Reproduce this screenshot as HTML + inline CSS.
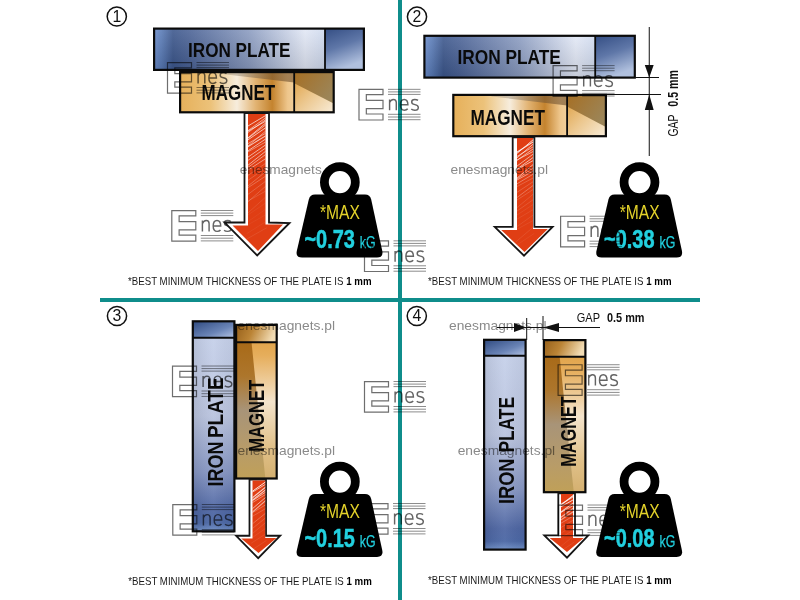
<!DOCTYPE html><html><head><meta charset="utf-8"><style>html,body{margin:0;padding:0;background:#fff;overflow:hidden}svg{display:block}</style></head><body>
<svg width="800" height="600" viewBox="0 0 800 600" font-family='"Liberation Sans", sans-serif'>
<defs>
<linearGradient id="gPH" x1="0" y1="0" x2="1" y2="0">
<stop offset="0" stop-color="#6a8ccc"/><stop offset="0.035" stop-color="#587ab6"/><stop offset="0.09" stop-color="#3b568c"/><stop offset="0.17" stop-color="#4a6296"/>
<stop offset="0.45" stop-color="#8a9bc0"/><stop offset="0.72" stop-color="#e2e8f6"/><stop offset="0.8" stop-color="#d2dcf0"/><stop offset="1" stop-color="#b8c6e2"/></linearGradient>
<linearGradient id="gPHv" x1="0" y1="0" x2="0" y2="1"><stop offset="0" stop-color="#fff" stop-opacity="0.12"/><stop offset="1" stop-color="#000" stop-opacity="0.12"/></linearGradient>
<linearGradient id="gPHc" x1="0" y1="0" x2="0.35" y2="1"><stop offset="0" stop-color="#344e84"/><stop offset="0.5" stop-color="#5f77a8"/><stop offset="1" stop-color="#b0c0de"/></linearGradient>
<linearGradient id="gMH" x1="0" y1="0" x2="1" y2="0">
<stop offset="0" stop-color="#e6b05a"/><stop offset="0.2" stop-color="#ecc27a"/><stop offset="0.37" stop-color="#f7eddd"/>
<stop offset="0.49" stop-color="#e2b474"/><stop offset="0.6" stop-color="#c4832e"/><stop offset="0.7" stop-color="#eec68c"/><stop offset="0.75" stop-color="#f2d09c"/></linearGradient>
<linearGradient id="gMHs" x1="0" y1="0" x2="1" y2="0"><stop offset="0" stop-color="#8a7a60" stop-opacity="0.3"/><stop offset="0.5" stop-color="#6a5a48" stop-opacity="0.45"/><stop offset="1" stop-color="#503010" stop-opacity="0.5"/></linearGradient>
<linearGradient id="gMHc1" x1="0" y1="0" x2="1" y2="0.6"><stop offset="0" stop-color="#a66f24"/><stop offset="1" stop-color="#9c8558"/></linearGradient>
<linearGradient id="gMHc2" x1="0" y1="0" x2="1" y2="1"><stop offset="0" stop-color="#dd9c3c"/><stop offset="0.5" stop-color="#ecc78e"/><stop offset="1" stop-color="#f8ecd8"/></linearGradient>
<linearGradient id="gPV" x1="0" y1="0" x2="0" y2="1">
<stop offset="0" stop-color="#c8d3ec"/><stop offset="0.45" stop-color="#b9c3de"/><stop offset="0.72" stop-color="#8595c2"/><stop offset="0.9" stop-color="#4d65a2"/><stop offset="0.96" stop-color="#4a66a4"/><stop offset="1" stop-color="#6e8ec6"/></linearGradient>
<linearGradient id="gPVh" x1="0" y1="0" x2="1" y2="0"><stop offset="0" stop-color="#000" stop-opacity="0.08"/><stop offset="0.5" stop-color="#fff" stop-opacity="0.06"/><stop offset="1" stop-color="#000" stop-opacity="0.04"/></linearGradient>
<linearGradient id="gPVc" x1="0" y1="0" x2="1" y2="1"><stop offset="0" stop-color="#2f4a80"/><stop offset="0.6" stop-color="#6a84b6"/><stop offset="1" stop-color="#b4c4e4"/></linearGradient>
<linearGradient id="gMVL" x1="0" y1="0" x2="0" y2="1">
<stop offset="0" stop-color="#a86a18"/><stop offset="0.25" stop-color="#ad762c"/><stop offset="0.5" stop-color="#a89478"/><stop offset="0.8" stop-color="#b89c68"/><stop offset="1" stop-color="#c0a058"/></linearGradient>
<linearGradient id="gMVR" x1="0" y1="0" x2="0" y2="1">
<stop offset="0" stop-color="#dc9a38"/><stop offset="0.2" stop-color="#e6ae5c"/><stop offset="0.5" stop-color="#f4e4cc"/><stop offset="0.8" stop-color="#e0c088"/><stop offset="1" stop-color="#d4b070"/></linearGradient>
<linearGradient id="gMVc" x1="0" y1="0" x2="1" y2="0.2"><stop offset="0" stop-color="#96601a"/><stop offset="0.45" stop-color="#bb8436"/><stop offset="1" stop-color="#f2dcb4"/></linearGradient>

<g id="logo" fill="none" stroke="#6e6e6e" stroke-width="1.2">
<path d="M4,4.33 H28 V9.67 H11.33 V15.33 H28 V23.67 H11.33 V29 H28 V35 H4 Z"/>
<path d="M33,4.33 H65.5 M33,6.9 H65.5 M33,9.4 H65.5 M33,29.3 H65.5 M33,32 H65.5 M33,34.7 H65.5" stroke="#8c8c8c" stroke-width="1"/>
<path d="M34.6,25.2 V14.4 M34.6,17.6 Q35.8,14.4 38.4,14.4 Q41.3,14.4 41.3,17.6 V25.2 M45.4,19.8 H52.9 Q52.9,14.4 49.2,14.4 Q45.4,14.4 45.4,19.8 Q45.4,25.2 49.4,25.2 Q51.6,25.2 52.7,23.8 M63,15.4 Q61.9,14.4 59.7,14.4 Q56.7,14.4 56.7,17 Q56.7,19 59.9,19.6 Q63.3,20.2 63.3,22.4 Q63.3,25.2 59.8,25.2 Q57.4,25.2 56.3,24" stroke="#646464" stroke-width="1.45"/>
</g>
</defs>
<rect width="800" height="600" fill="#fff"/>
<rect x="398" y="0" width="4" height="600" fill="#0f8d8b"/>
<rect x="100" y="298" width="600" height="4" fill="#0f8d8b"/>
<circle cx="116.8" cy="16.5" r="9.6" fill="none" stroke="#111" stroke-width="1.5"/>
<text x="116.8" y="21.8" font-size="15.8" fill="#111" text-anchor="middle">1</text>
<circle cx="417" cy="16.7" r="9.6" fill="none" stroke="#111" stroke-width="1.5"/>
<text x="417" y="22.0" font-size="15.8" fill="#111" text-anchor="middle">2</text>
<circle cx="117" cy="316" r="9.6" fill="none" stroke="#111" stroke-width="1.5"/>
<text x="117" y="321.3" font-size="15.8" fill="#111" text-anchor="middle">3</text>
<circle cx="416.8" cy="316" r="9.6" fill="none" stroke="#111" stroke-width="1.5"/>
<text x="416.8" y="321.3" font-size="15.8" fill="#111" text-anchor="middle">4</text>
<rect x="154.1" y="28.6" width="209.8" height="41.3" fill="url(#gPH)"/>
<rect x="154.1" y="28.6" width="209.8" height="41.3" fill="url(#gPHv)"/>
<rect x="325" y="28.6" width="38.89999999999998" height="41.3" fill="url(#gPHc)"/>
<rect x="154.1" y="28.6" width="209.8" height="41.3" fill="none" stroke="#0a0a0a" stroke-width="2.2"/>
<line x1="325" y1="28.6" x2="325" y2="69.9" stroke="#0a0a0a" stroke-width="1.8"/>
<text x="188" y="56.5" font-size="20.8" font-weight="bold" fill="#0a0a0a" textLength="102.5" lengthAdjust="spacingAndGlyphs">IRON PLATE</text>
<rect x="180.1" y="72.1" width="153.60000000000002" height="40.2" fill="url(#gMH)"/>
<polygon points="218.1,72.1 294.2,72.1 294.2,82.6 218.1,73.6" fill="url(#gMHs)"/>
<rect x="294.2" y="72.1" width="39.50000000000006" height="40.2" fill="url(#gMHc2)"/>
<polygon points="294.2,72.1 333.70000000000005,72.1 333.70000000000005,103.45599999999999 294.2,83.356" fill="url(#gMHc1)"/>
<rect x="180.1" y="72.1" width="153.60000000000002" height="40.2" fill="none" stroke="#0a0a0a" stroke-width="2.2"/>
<line x1="294.2" y1="72.1" x2="294.2" y2="112.3" stroke="#0a0a0a" stroke-width="1.8"/>
<text x="201.6" y="100" font-size="21.2" font-weight="bold" fill="#0a0a0a" textLength="73.5" lengthAdjust="spacingAndGlyphs">MAGNET</text>
<g style="mix-blend-mode:multiply">
<use href="#logo" x="167.8" y="206.2"/>
</g>
<polygon points="244.5,113 244.5,222.5 224.5,222.5 257.2,255.5 289.5,223 269,222.5 269,113" fill="#fff" stroke="#151515" stroke-width="1.8" stroke-linejoin="miter"/>
<polygon points="248,114 265.5,114 265.5,224.5 283,224.5 258,251 232.5,225.5 248,225.5" fill="#e03e14"/>
<clipPath id="h1"><polygon points="248,114 265.5,114 265.5,224.5 283,224.5 258,251 232.5,225.5 248,225.5"/></clipPath>
<g clip-path="url(#h1)" stroke="#fff" stroke-linecap="round">
<line x1="247.0" y1="126.6" x2="266.5" y2="115.0" stroke-opacity="0.89" stroke-width="0.76"/>
<line x1="247.0" y1="131.4" x2="266.5" y2="117.2" stroke-opacity="0.87" stroke-width="0.64"/>
<line x1="247.0" y1="133.2" x2="266.5" y2="119.1" stroke-opacity="0.85" stroke-width="0.63"/>
<line x1="247.0" y1="131.7" x2="266.5" y2="120.7" stroke-opacity="0.84" stroke-width="0.82"/>
<line x1="247.0" y1="138.7" x2="266.5" y2="122.4" stroke-opacity="0.82" stroke-width="0.81"/>
<line x1="247.0" y1="139.1" x2="266.5" y2="124.3" stroke-opacity="0.81" stroke-width="0.71"/>
<line x1="247.0" y1="140.5" x2="266.5" y2="127.2" stroke-opacity="0.78" stroke-width="0.89"/>
<line x1="247.0" y1="146.9" x2="266.5" y2="130.4" stroke-opacity="0.75" stroke-width="0.62"/>
<line x1="247.0" y1="144.2" x2="266.5" y2="132.8" stroke-opacity="0.73" stroke-width="0.67"/>
<line x1="247.0" y1="147.2" x2="266.5" y2="135.4" stroke-opacity="0.71" stroke-width="1.01"/>
<line x1="247.0" y1="151.5" x2="266.5" y2="138.4" stroke-opacity="0.68" stroke-width="0.92"/>
<line x1="247.0" y1="152.4" x2="266.5" y2="141.5" stroke-opacity="0.65" stroke-width="0.63"/>
<line x1="247.0" y1="157.8" x2="266.5" y2="144.3" stroke-opacity="0.63" stroke-width="0.94"/>
<line x1="247.0" y1="161.1" x2="266.5" y2="147.4" stroke-opacity="0.60" stroke-width="0.89"/>
<line x1="247.0" y1="166.0" x2="266.5" y2="150.6" stroke-opacity="0.57" stroke-width="1.00"/>
<line x1="247.0" y1="168.1" x2="266.5" y2="153.9" stroke-opacity="0.54" stroke-width="0.89"/>
<line x1="247.0" y1="170.7" x2="266.5" y2="158.1" stroke-opacity="0.50" stroke-width="0.96"/>
<line x1="247.0" y1="176.1" x2="266.5" y2="162.7" stroke-opacity="0.46" stroke-width="0.45"/>
<line x1="247.0" y1="181.1" x2="266.5" y2="167.2" stroke-opacity="0.42" stroke-width="0.46"/>
<line x1="247.0" y1="186.8" x2="266.5" y2="171.0" stroke-opacity="0.38" stroke-width="0.67"/>
<line x1="247.0" y1="188.3" x2="266.5" y2="175.6" stroke-opacity="0.34" stroke-width="0.75"/>
<line x1="247.0" y1="195.1" x2="266.5" y2="180.6" stroke-opacity="0.30" stroke-width="0.64"/>
<line x1="247.0" y1="202.6" x2="266.5" y2="185.5" stroke-opacity="0.25" stroke-width="0.74"/>
<line x1="247.0" y1="201.6" x2="266.5" y2="190.6" stroke-opacity="0.21" stroke-width="0.67"/>
<line x1="247.0" y1="213.8" x2="266.5" y2="196.3" stroke-opacity="0.16" stroke-width="0.66"/>
<line x1="247.0" y1="215.6" x2="266.5" y2="202.4" stroke-opacity="0.12" stroke-width="0.51"/>
<line x1="247.0" y1="222.3" x2="266.5" y2="208.6" stroke-opacity="0.12" stroke-width="0.41"/>
<line x1="247.0" y1="225.3" x2="266.5" y2="214.4" stroke-opacity="0.12" stroke-width="0.45"/>
<line x1="247.0" y1="233.5" x2="266.5" y2="221.2" stroke-opacity="0.12" stroke-width="0.45"/>
<line x1="247.0" y1="238.9" x2="266.5" y2="227.9" stroke-opacity="0.12" stroke-width="0.75"/>
</g>
<g transform="translate(0,0)">
<circle cx="339.85" cy="182.15" r="15.45" fill="none" stroke="#000" stroke-width="8.8"/>
<path d="M315,194.5 H365 Q370,194.5 371.2,199.5 L382.3,251 Q383.5,257.5 377,257.5 H302 Q295.5,257.5 296.8,251 L308.8,199.5 Q310,194.5 315,194.5 Z" fill="#000"/>
<text x="320" y="218.5" font-size="19.4" fill="#e3d22a" textLength="40" lengthAdjust="spacingAndGlyphs">*MAX</text>
<text x="304.4" y="247.75" font-size="25" font-weight="bold" fill="#22d0df" stroke="#22d0df" stroke-width="0.5" textLength="50.5" lengthAdjust="spacingAndGlyphs">~0.73</text>
<text x="359.8" y="247.75" font-size="16.5" fill="#22d0df" stroke="#22d0df" stroke-width="0.25" textLength="15.8" lengthAdjust="spacingAndGlyphs">kG</text>
</g>
<text x="128" y="285" font-size="11.6" fill="#1a1a1a" textLength="243.5" lengthAdjust="spacingAndGlyphs">*BEST MINIMUM THICKNESS OF THE PLATE IS <tspan font-weight="bold" fill="#000">1 mm</tspan></text>
<rect x="424.40000000000003" y="35.800000000000004" width="210.39999999999998" height="41.8" fill="url(#gPH)"/>
<rect x="424.40000000000003" y="35.800000000000004" width="210.39999999999998" height="41.8" fill="url(#gPHv)"/>
<rect x="595.2" y="35.800000000000004" width="39.59999999999991" height="41.8" fill="url(#gPHc)"/>
<rect x="424.40000000000003" y="35.800000000000004" width="210.39999999999998" height="41.8" fill="none" stroke="#0a0a0a" stroke-width="2.2"/>
<line x1="595.2" y1="35.800000000000004" x2="595.2" y2="77.6" stroke="#0a0a0a" stroke-width="1.8"/>
<text x="457.4" y="63.9" font-size="20.8" font-weight="bold" fill="#0a0a0a" textLength="103.5" lengthAdjust="spacingAndGlyphs">IRON PLATE</text>
<rect x="453.3" y="94.89999999999999" width="152.60000000000002" height="41.30000000000001" fill="url(#gMH)"/>
<polygon points="491.3,94.89999999999999 567.1,94.89999999999999 567.1,105.39999999999999 491.3,96.39999999999999" fill="url(#gMHs)"/>
<rect x="567.1" y="94.89999999999999" width="38.80000000000007" height="41.30000000000001" fill="url(#gMHc2)"/>
<polygon points="567.1,94.89999999999999 605.9000000000001,94.89999999999999 605.9000000000001,127.114 567.1,106.464" fill="url(#gMHc1)"/>
<rect x="453.3" y="94.89999999999999" width="152.60000000000002" height="41.30000000000001" fill="none" stroke="#0a0a0a" stroke-width="2.2"/>
<line x1="567.1" y1="94.89999999999999" x2="567.1" y2="136.2" stroke="#0a0a0a" stroke-width="1.8"/>
<text x="470.4" y="124.9" font-size="21.4" font-weight="bold" fill="#0a0a0a" textLength="74.5" lengthAdjust="spacingAndGlyphs">MAGNET</text>
<polygon points="512.7,137.3 512.7,226.9 494.75,226.9 524,255.7 552.6,226.9 534.4,226.9 534.4,137.3" fill="#fff" stroke="#151515" stroke-width="1.8" stroke-linejoin="miter"/>
<polygon points="517,138 533,138 533,229 547.8,229 524.5,252 501.25,230 517,230" fill="#e03e14"/>
<clipPath id="h2"><polygon points="517,138 533,138 533,229 547.8,229 524.5,252 501.25,230 517,230"/></clipPath>
<g clip-path="url(#h2)" stroke="#fff" stroke-linecap="round">
<line x1="516.0" y1="154.3" x2="534.0" y2="139.0" stroke-opacity="0.89" stroke-width="0.87"/>
<line x1="516.0" y1="152.8" x2="534.0" y2="141.4" stroke-opacity="0.86" stroke-width="1.03"/>
<line x1="516.0" y1="158.7" x2="534.0" y2="143.4" stroke-opacity="0.84" stroke-width="0.78"/>
<line x1="516.0" y1="157.0" x2="534.0" y2="146.3" stroke-opacity="0.81" stroke-width="0.68"/>
<line x1="516.0" y1="161.1" x2="534.0" y2="148.3" stroke-opacity="0.79" stroke-width="0.72"/>
<line x1="516.0" y1="160.6" x2="534.0" y2="151.0" stroke-opacity="0.76" stroke-width="0.73"/>
<line x1="516.0" y1="166.8" x2="534.0" y2="153.5" stroke-opacity="0.73" stroke-width="0.78"/>
<line x1="516.0" y1="169.8" x2="534.0" y2="156.9" stroke-opacity="0.69" stroke-width="0.95"/>
<line x1="516.0" y1="170.0" x2="534.0" y2="160.1" stroke-opacity="0.66" stroke-width="0.94"/>
<line x1="516.0" y1="179.0" x2="534.0" y2="163.8" stroke-opacity="0.62" stroke-width="0.99"/>
<line x1="516.0" y1="179.7" x2="534.0" y2="167.5" stroke-opacity="0.58" stroke-width="0.80"/>
<line x1="516.0" y1="180.6" x2="534.0" y2="170.6" stroke-opacity="0.54" stroke-width="0.92"/>
<line x1="516.0" y1="184.4" x2="534.0" y2="173.7" stroke-opacity="0.51" stroke-width="0.70"/>
<line x1="516.0" y1="187.1" x2="534.0" y2="177.5" stroke-opacity="0.47" stroke-width="0.42"/>
<line x1="516.0" y1="193.0" x2="534.0" y2="181.1" stroke-opacity="0.43" stroke-width="0.44"/>
<line x1="516.0" y1="198.3" x2="534.0" y2="184.8" stroke-opacity="0.39" stroke-width="0.75"/>
<line x1="516.0" y1="200.7" x2="534.0" y2="188.9" stroke-opacity="0.34" stroke-width="0.50"/>
<line x1="516.0" y1="208.5" x2="534.0" y2="193.5" stroke-opacity="0.29" stroke-width="0.45"/>
<line x1="516.0" y1="211.8" x2="534.0" y2="199.1" stroke-opacity="0.23" stroke-width="0.59"/>
<line x1="516.0" y1="215.7" x2="534.0" y2="203.9" stroke-opacity="0.18" stroke-width="0.44"/>
<line x1="516.0" y1="219.8" x2="534.0" y2="209.1" stroke-opacity="0.12" stroke-width="0.73"/>
<line x1="516.0" y1="227.3" x2="534.0" y2="214.4" stroke-opacity="0.12" stroke-width="0.78"/>
<line x1="516.0" y1="229.8" x2="534.0" y2="220.0" stroke-opacity="0.12" stroke-width="0.62"/>
<line x1="516.0" y1="241.7" x2="534.0" y2="226.5" stroke-opacity="0.12" stroke-width="0.79"/>
<line x1="516.0" y1="245.6" x2="534.0" y2="233.6" stroke-opacity="0.12" stroke-width="0.50"/>
</g>
<g transform="translate(299.65,0)">
<circle cx="339.85" cy="182.15" r="15.45" fill="none" stroke="#000" stroke-width="8.8"/>
<path d="M315,194.5 H365 Q370,194.5 371.2,199.5 L382.3,251 Q383.5,257.5 377,257.5 H302 Q295.5,257.5 296.8,251 L308.8,199.5 Q310,194.5 315,194.5 Z" fill="#000"/>
<text x="320" y="218.5" font-size="19.4" fill="#e3d22a" textLength="40" lengthAdjust="spacingAndGlyphs">*MAX</text>
<text x="304.4" y="247.75" font-size="25" font-weight="bold" fill="#22d0df" stroke="#22d0df" stroke-width="0.5" textLength="50.5" lengthAdjust="spacingAndGlyphs">~0.38</text>
<text x="359.8" y="247.75" font-size="16.5" fill="#22d0df" stroke="#22d0df" stroke-width="0.25" textLength="15.8" lengthAdjust="spacingAndGlyphs">kG</text>
</g>
<text x="428" y="284.5" font-size="11.6" fill="#1a1a1a" textLength="243.5" lengthAdjust="spacingAndGlyphs">*BEST MINIMUM THICKNESS OF THE PLATE IS <tspan font-weight="bold" fill="#000">1 mm</tspan></text>
<g stroke="#111" stroke-width="1">
<line x1="649.25" y1="27" x2="649.25" y2="156"/>
<line x1="635" y1="77.5" x2="659" y2="77.5"/>
<line x1="607" y1="94.5" x2="661" y2="94.5"/>
</g>
<polygon points="644.8,65 653.7,65 649.25,77.5" fill="#111"/>
<polygon points="644.8,110 653.7,110 649.25,94.5" fill="#111"/>
<text transform="translate(677.8,136.5) rotate(-90)" font-size="14" fill="#111"><tspan textLength="22" lengthAdjust="spacingAndGlyphs">GAP</tspan><tspan x="29.8" font-weight="bold" textLength="36.7" lengthAdjust="spacingAndGlyphs">0.5 mm</tspan></text>
<rect x="192.79999999999998" y="321.3" width="41.60000000000001" height="210.0" fill="url(#gPV)"/>
<rect x="192.79999999999998" y="321.3" width="41.60000000000001" height="210.0" fill="url(#gPVh)"/>
<rect x="192.79999999999998" y="321.3" width="41.60000000000001" height="16.44999999999999" fill="url(#gPVc)"/>
<rect x="192.79999999999998" y="321.3" width="41.60000000000001" height="210.0" fill="none" stroke="#0a0a0a" stroke-width="2.2"/>
<line x1="192.79999999999998" y1="337.75" x2="234.39999999999998" y2="337.75" stroke="#0a0a0a" stroke-width="2"/>
<g transform="translate(222.9,486.5) rotate(-90)" font-size="21.5" font-weight="bold" fill="#0a0a0a">
<text x="0" y="0" textLength="45" lengthAdjust="spacingAndGlyphs">IRON</text>
<text x="48.5" y="0" textLength="60.5" lengthAdjust="spacingAndGlyphs">PLATE</text>
</g>
<rect x="236.1" y="324.90000000000003" width="40.60000000000001" height="153.60000000000002" fill="url(#gMVR)"/>
<polygon points="236.1,342.25 251.528,342.25 265.332,478.50000000000006 236.1,478.50000000000006" fill="url(#gMVL)"/>
<rect x="236.1" y="324.90000000000003" width="40.60000000000001" height="17.349999999999966" fill="url(#gMVc)"/>
<rect x="236.1" y="324.90000000000003" width="40.60000000000001" height="153.60000000000002" fill="none" stroke="#0a0a0a" stroke-width="2.2"/>
<line x1="236.1" y1="342.25" x2="276.7" y2="342.25" stroke="#0a0a0a" stroke-width="2"/>
<text transform="translate(263.9,451.75) rotate(-90)" xml:space="preserve" font-size="21.5" font-weight="bold" fill="#0a0a0a" textLength="72" lengthAdjust="spacingAndGlyphs">MAGNET</text>
<polygon points="249.5,479.6 249.5,535.75 236,535.75 258.2,558.25 280.25,535.75 266,535.75 266,479.6" fill="#fff" stroke="#151515" stroke-width="1.8" stroke-linejoin="miter"/>
<polygon points="252.5,480.5 265.25,480.5 265.25,538 276.5,538 258.5,553 241.25,538.5 252.5,538.5" fill="#e03e14"/>
<clipPath id="h3"><polygon points="252.5,480.5 265.25,480.5 265.25,538 276.5,538 258.5,553 241.25,538.5 252.5,538.5"/></clipPath>
<g clip-path="url(#h3)" stroke="#fff" stroke-linecap="round">
<line x1="251.5" y1="491.9" x2="266.2" y2="481.5" stroke-opacity="0.88" stroke-width="0.99"/>
<line x1="251.5" y1="492.7" x2="266.2" y2="483.9" stroke-opacity="0.84" stroke-width="0.76"/>
<line x1="251.5" y1="498.5" x2="266.2" y2="486.6" stroke-opacity="0.79" stroke-width="1.09"/>
<line x1="251.5" y1="500.8" x2="266.2" y2="489.4" stroke-opacity="0.74" stroke-width="1.01"/>
<line x1="251.5" y1="501.3" x2="266.2" y2="491.8" stroke-opacity="0.70" stroke-width="0.86"/>
<line x1="251.5" y1="503.2" x2="266.2" y2="494.1" stroke-opacity="0.66" stroke-width="0.61"/>
<line x1="251.5" y1="509.5" x2="266.2" y2="496.9" stroke-opacity="0.61" stroke-width="0.95"/>
<line x1="251.5" y1="512.9" x2="266.2" y2="500.2" stroke-opacity="0.56" stroke-width="1.07"/>
<line x1="251.5" y1="513.3" x2="266.2" y2="504.5" stroke-opacity="0.48" stroke-width="0.55"/>
<line x1="251.5" y1="516.9" x2="266.2" y2="508.2" stroke-opacity="0.42" stroke-width="0.48"/>
<line x1="251.5" y1="524.6" x2="266.2" y2="512.7" stroke-opacity="0.34" stroke-width="0.76"/>
<line x1="251.5" y1="529.2" x2="266.2" y2="517.4" stroke-opacity="0.26" stroke-width="0.66"/>
<line x1="251.5" y1="534.3" x2="266.2" y2="522.1" stroke-opacity="0.18" stroke-width="0.66"/>
<line x1="251.5" y1="538.1" x2="266.2" y2="528.0" stroke-opacity="0.12" stroke-width="0.70"/>
<line x1="251.5" y1="543.0" x2="266.2" y2="533.6" stroke-opacity="0.12" stroke-width="0.72"/>
<line x1="251.5" y1="550.3" x2="266.2" y2="540.6" stroke-opacity="0.12" stroke-width="0.79"/>
</g>
<g transform="translate(0,299.5)">
<circle cx="339.85" cy="182.15" r="15.45" fill="none" stroke="#000" stroke-width="8.8"/>
<path d="M315,194.5 H365 Q370,194.5 371.2,199.5 L382.3,251 Q383.5,257.5 377,257.5 H302 Q295.5,257.5 296.8,251 L308.8,199.5 Q310,194.5 315,194.5 Z" fill="#000"/>
<text x="320" y="218.5" font-size="19.4" fill="#e3d22a" textLength="40" lengthAdjust="spacingAndGlyphs">*MAX</text>
<text x="304.4" y="247.75" font-size="25" font-weight="bold" fill="#22d0df" stroke="#22d0df" stroke-width="0.5" textLength="50.5" lengthAdjust="spacingAndGlyphs">~0.15</text>
<text x="359.8" y="247.75" font-size="16.5" fill="#22d0df" stroke="#22d0df" stroke-width="0.25" textLength="15.8" lengthAdjust="spacingAndGlyphs">kG</text>
</g>
<text x="128.3" y="584.5" font-size="11.6" fill="#1a1a1a" textLength="243.5" lengthAdjust="spacingAndGlyphs">*BEST MINIMUM THICKNESS OF THE PLATE IS <tspan font-weight="bold" fill="#000">1 mm</tspan></text>
<rect x="484.1" y="339.8" width="41.50000000000004" height="209.80000000000007" fill="url(#gPV)"/>
<rect x="484.1" y="339.8" width="41.50000000000004" height="209.80000000000007" fill="url(#gPVh)"/>
<rect x="484.1" y="339.8" width="41.50000000000004" height="16.0" fill="url(#gPVc)"/>
<rect x="484.1" y="339.8" width="41.50000000000004" height="209.80000000000007" fill="none" stroke="#0a0a0a" stroke-width="2.2"/>
<line x1="484.1" y1="355.8" x2="525.6" y2="355.8" stroke="#0a0a0a" stroke-width="2"/>
<g transform="translate(514.2,504) rotate(-90)" font-size="21.5" font-weight="bold" fill="#0a0a0a">
<text x="0" y="0" textLength="45.5" lengthAdjust="spacingAndGlyphs">IRON</text>
<text x="51.5" y="0" textLength="55.5" lengthAdjust="spacingAndGlyphs">PLATE</text>
</g>
<rect x="543.9" y="340.1" width="41.50000000000004" height="152.10000000000002" fill="url(#gMVR)"/>
<polygon points="543.9,356.7 559.67,356.7 573.78,492.20000000000005 543.9,492.20000000000005" fill="url(#gMVL)"/>
<rect x="543.9" y="340.1" width="41.50000000000004" height="16.599999999999966" fill="url(#gMVc)"/>
<rect x="543.9" y="340.1" width="41.50000000000004" height="152.10000000000002" fill="none" stroke="#0a0a0a" stroke-width="2.2"/>
<line x1="543.9" y1="356.7" x2="585.4" y2="356.7" stroke="#0a0a0a" stroke-width="2"/>
<text transform="translate(576.2,466.75) rotate(-90)" xml:space="preserve" font-size="21.5" font-weight="bold" fill="#0a0a0a" textLength="70.5" lengthAdjust="spacingAndGlyphs">MAGNET</text>
<polygon points="558.3,493.3 558.3,535.4 544.3,535.4 567,557.7 588.3,535.4 575,535.4 575,493.3" fill="#fff" stroke="#151515" stroke-width="1.8" stroke-linejoin="miter"/>
<polygon points="561,494 573,494 573,538 583.7,538 567,552 549.7,538 561,538" fill="#e03e14"/>
<clipPath id="h4"><polygon points="561,494 573,494 573,538 583.7,538 567,552 549.7,538 561,538"/></clipPath>
<g clip-path="url(#h4)" stroke="#fff" stroke-linecap="round">
<line x1="560.0" y1="505.7" x2="574.0" y2="495.0" stroke-opacity="0.88" stroke-width="1.07"/>
<line x1="560.0" y1="504.6" x2="574.0" y2="496.6" stroke-opacity="0.84" stroke-width="0.66"/>
<line x1="560.0" y1="507.3" x2="574.0" y2="499.4" stroke-opacity="0.78" stroke-width="1.00"/>
<line x1="560.0" y1="512.8" x2="574.0" y2="502.4" stroke-opacity="0.71" stroke-width="1.09"/>
<line x1="560.0" y1="512.9" x2="574.0" y2="505.1" stroke-opacity="0.65" stroke-width="0.87"/>
<line x1="560.0" y1="518.0" x2="574.0" y2="507.7" stroke-opacity="0.59" stroke-width="1.09"/>
<line x1="560.0" y1="520.5" x2="574.0" y2="511.2" stroke-opacity="0.51" stroke-width="1.07"/>
<line x1="560.0" y1="523.8" x2="574.0" y2="515.6" stroke-opacity="0.41" stroke-width="0.73"/>
<line x1="560.0" y1="528.1" x2="574.0" y2="519.7" stroke-opacity="0.32" stroke-width="0.52"/>
<line x1="560.0" y1="533.9" x2="574.0" y2="524.7" stroke-opacity="0.20" stroke-width="0.50"/>
<line x1="560.0" y1="538.5" x2="574.0" y2="529.6" stroke-opacity="0.12" stroke-width="0.76"/>
<line x1="560.0" y1="547.1" x2="574.0" y2="535.6" stroke-opacity="0.12" stroke-width="0.63"/>
<line x1="560.0" y1="551.8" x2="574.0" y2="542.2" stroke-opacity="0.12" stroke-width="0.77"/>
</g>
<g transform="translate(299.65,299.5)">
<circle cx="339.85" cy="182.15" r="15.45" fill="none" stroke="#000" stroke-width="8.8"/>
<path d="M315,194.5 H365 Q370,194.5 371.2,199.5 L382.3,251 Q383.5,257.5 377,257.5 H302 Q295.5,257.5 296.8,251 L308.8,199.5 Q310,194.5 315,194.5 Z" fill="#000"/>
<text x="320" y="218.5" font-size="19.4" fill="#e3d22a" textLength="40" lengthAdjust="spacingAndGlyphs">*MAX</text>
<text x="304.4" y="247.75" font-size="25" font-weight="bold" fill="#22d0df" stroke="#22d0df" stroke-width="0.5" textLength="50.5" lengthAdjust="spacingAndGlyphs">~0.08</text>
<text x="359.8" y="247.75" font-size="16.5" fill="#22d0df" stroke="#22d0df" stroke-width="0.25" textLength="15.8" lengthAdjust="spacingAndGlyphs">kG</text>
</g>
<text x="428" y="584" font-size="11.6" fill="#1a1a1a" textLength="243.5" lengthAdjust="spacingAndGlyphs">*BEST MINIMUM THICKNESS OF THE PLATE IS <tspan font-weight="bold" fill="#000">1 mm</tspan></text>
<g style="mix-blend-mode:multiply">
<use href="#logo" x="163.5" y="58.2"/>
<use href="#logo" x="355.0" y="85.0"/>
<use href="#logo" x="360.5" y="236.5"/>
<use href="#logo" x="549.1" y="61.3"/>
<use href="#logo" x="556.6" y="211.9"/>
<use href="#logo" x="168.5" y="361.7"/>
<use href="#logo" x="360.5" y="377.2"/>
<use href="#logo" x="168.8" y="500.2"/>
<use href="#logo" x="360.0" y="499.2"/>
<use href="#logo" x="554.1" y="360.4"/>
<use href="#logo" x="554.5" y="500.7"/>
<text x="239.75" y="173.75" font-size="12.9" fill="#8a8a8a" textLength="82" lengthAdjust="spacingAndGlyphs">enesmagnets</text>
<text x="450.5" y="173.75" font-size="12.9" fill="#8a8a8a" textLength="97.5" lengthAdjust="spacingAndGlyphs">enesmagnets.pl</text>
<text x="237.5" y="330" font-size="12.9" fill="#8a8a8a" textLength="97.5" lengthAdjust="spacingAndGlyphs">enesmagnets.pl</text>
<text x="237.5" y="455.25" font-size="12.9" fill="#8a8a8a" textLength="97.5" lengthAdjust="spacingAndGlyphs">enesmagnets.pl</text>
<text x="449" y="330.25" font-size="12.9" fill="#8a8a8a" textLength="97.5" lengthAdjust="spacingAndGlyphs">enesmagnets.pl</text>
<text x="457.7" y="455.25" font-size="12.9" fill="#8a8a8a" textLength="97.5" lengthAdjust="spacingAndGlyphs">enesmagnets.pl</text>
</g>
<g stroke="#111" stroke-width="1">
<line x1="526.7" y1="318" x2="526.7" y2="340"/>
<line x1="543" y1="316" x2="543" y2="340"/>
<line x1="497" y1="327.5" x2="600" y2="327.5"/>
</g>
<polygon points="514,323 514,332 526.5,327.5" fill="#111"/>
<polygon points="559,323 559,332 543.2,327.5" fill="#111"/>
<text x="576.8" y="321.5" font-size="12.3" fill="#111"><tspan textLength="23.2" lengthAdjust="spacingAndGlyphs">GAP</tspan><tspan x="607" font-weight="bold" textLength="37.5" lengthAdjust="spacingAndGlyphs">0.5 mm</tspan></text>
</svg></body></html>
